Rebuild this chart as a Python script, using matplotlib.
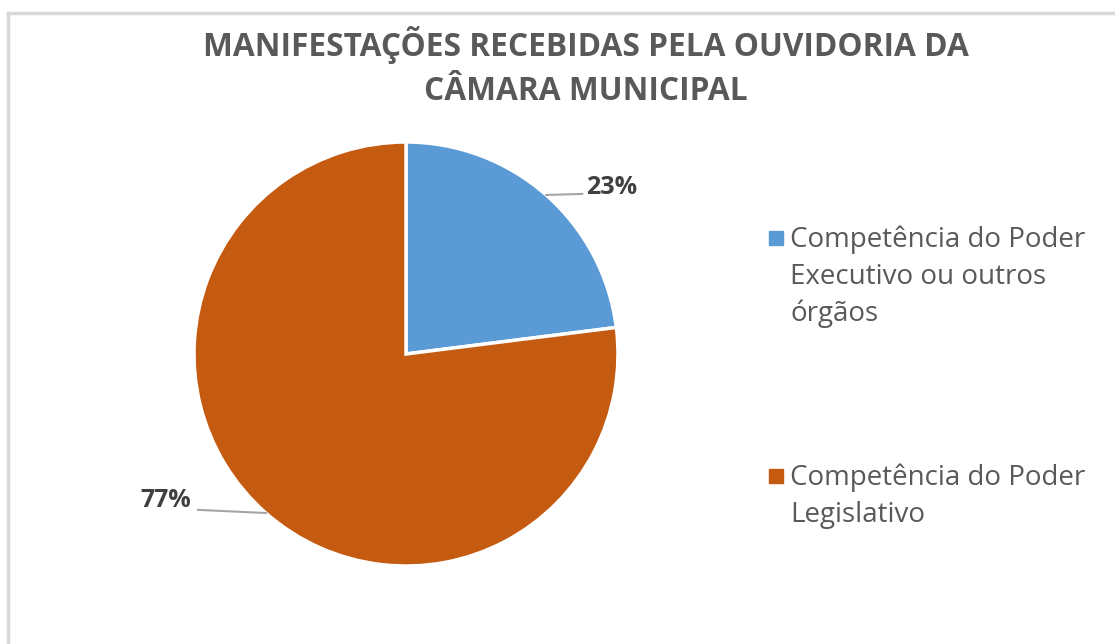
import numpy as np
import matplotlib.pyplot as plt
from matplotlib.lines import Line2D

plt.rcParams['font.family'] = ['Open Sans', 'DejaVu Sans']

# data
categorias = ["Competência do Poder\nExecutivo ou outros\nórgãos",
              "Competência do Poder\nLegislativo"]
valores = [23, 77]
cores = ["#5B9BD5", "#C55A11"]
titulo = "MANIFESTAÇÕES RECEBIDAS PELA OUVIDORIA DA\nCÂMARA MUNICIPAL"

W, H = 1115, 644
fig = plt.figure(figsize=(W / 100, H / 100), dpi=100)

# chart border (top and left visible)
fig.add_artist(Line2D([8 / W, 8 / W], [0, 1 - 13 / H], color="#d9d9d9", lw=2.5))
fig.add_artist(Line2D([8 / W, 1], [1 - 13 / H, 1 - 13 / H], color="#d9d9d9", lw=2.5))

cx, cy, r = 406, 354, 212
ax = fig.add_axes([(cx - r) / W, (H - cy - r) / H, 2 * r / W, 2 * r / H])
wedges, _ = ax.pie(valores, colors=cores, startangle=90, counterclock=False,
                   radius=1, wedgeprops=dict(edgecolor="white", linewidth=2.5))
ax.set_xlim(-1, 1)
ax.set_ylim(-1, 1)
ax.set_aspect("equal")
ax.axis("off")

# percentage labels with leader lines
total = sum(valores)
offsets = [((0.17, 0.005), (0.31, 0.035)), ((-0.32, 0.015), (-0.47, 0.06))]
for w, v, (lend, tpos) in zip(wedges, valores, offsets):
    ang = np.deg2rad((w.theta1 + w.theta2) / 2)
    x0, y0 = np.cos(ang), np.sin(ang)
    x1, y1 = x0 + lend[0], y0 + lend[1]
    ax.plot([x0, x1], [y0, y1], color="#a6a6a6", lw=1.5, clip_on=False)
    ax.text(x0 + tpos[0], y0 + tpos[1], f"{round(100 * v / total)}%",
            ha="center", va="center", fontsize=18, fontweight="bold",
            color="#404040")

fig.text(586 / W, 1 - 67 / H, titulo, ha="center", va="center",
         fontsize=22.8, fontweight="bold", color="#595959", linespacing=1.42)

# legend drawn by hand: square aligned with first line of each label
leg_y = [238, 476]
for lab, c, y in zip(categorias, cores, leg_y):
    fig.add_artist(Line2D([776 / W], [1 - y / H], marker="s", ls="",
                          markersize=10, color=c))
    fig.text(790 / W, 1 - (y - 13) / H, lab, ha="left", va="top",
             fontsize=20, color="#595959", linespacing=1.43)

fig.savefig("out.png", dpi=100)
